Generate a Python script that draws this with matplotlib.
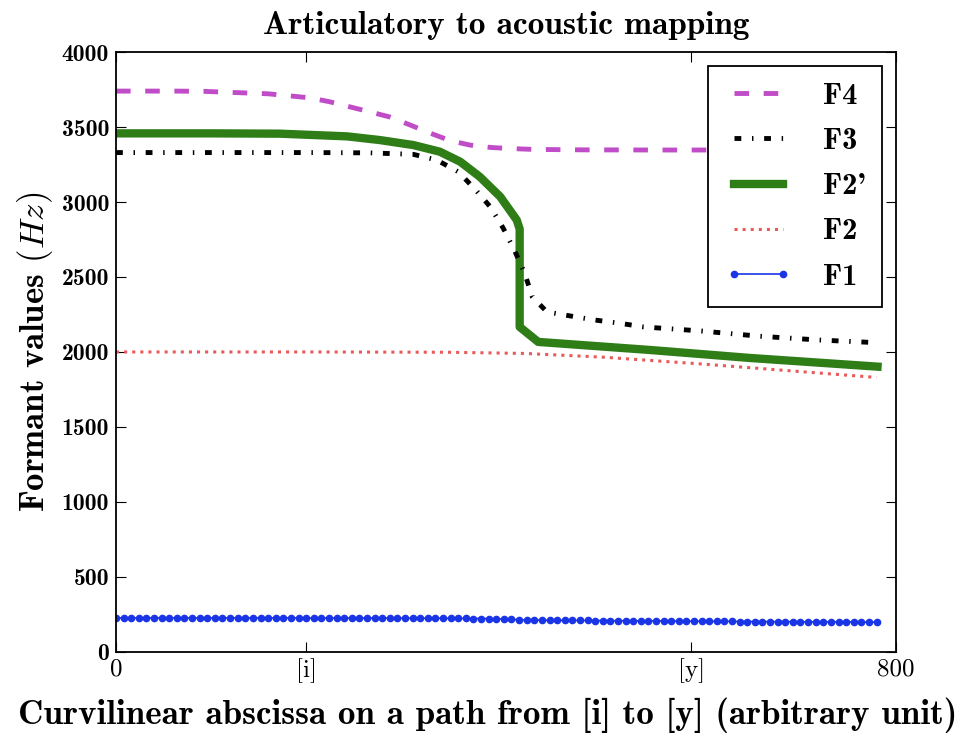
import numpy as np
import matplotlib
matplotlib.use("Agg")
import matplotlib.pyplot as plt

plt.rcParams['mathtext.fontset'] = 'cm'
plt.rcParams['axes.unicode_minus'] = False

# formant tracks along the [i] -> [y] path
f4_x = [0, 60, 91, 156, 199, 219, 260, 281, 302, 322, 343, 363, 384, 404, 428, 480, 560, 640, 720, 780]
f4_y = [3740, 3740, 3738, 3722, 3695, 3669, 3602, 3567, 3513, 3460, 3409, 3380, 3364, 3357, 3351,
        3348, 3347, 3347, 3347, 3347]

f3_x = [0, 100, 200, 260, 305, 329, 351, 368, 384, 397, 409, 419, 427, 442,
        466, 491, 515, 541, 600, 660, 720, 780]
f3_y = [3330, 3330, 3330, 3328, 3318, 3280, 3202, 3087, 2967, 2827, 2673, 2527, 2367, 2267,
        2240, 2213, 2193, 2167, 2140, 2105, 2080, 2062]

f2p_x = [0, 100, 168, 237, 271, 305, 332, 353, 373, 394, 411, 414, 414, 433, 548, 650, 781]
f2p_y = [3458, 3458, 3456, 3438, 3413, 3380, 3336, 3269, 3169, 3036, 2880, 2820, 2167, 2067,
         2013, 1960, 1902]

f2_x = [0, 200, 340, 420, 500, 600, 700, 780]
f2_y = [2000, 2000, 1998, 1990, 1965, 1920, 1870, 1830]

f1_x = np.linspace(0, 780, 101)
f1_y = [226, 226, 226, 226, 226, 226, 226, 226, 226, 226,
        226, 226, 226, 226, 226, 226, 226, 226, 226, 226,
        226, 226, 226, 226, 226, 225, 225, 225, 225, 225,
        225, 225, 225, 225, 225, 225, 225, 224, 224, 224,
        224, 224, 224, 224, 223, 223, 223, 222, 222, 221,
        220, 219, 217, 214, 212, 211, 211, 210, 210, 210,
        209, 209, 209, 208, 208, 208, 207, 207, 207, 206,
        206, 206, 205, 205, 205, 204, 204, 204, 203, 203,
        203, 203, 202, 202, 202, 202, 201, 201, 201, 201,
        200, 200, 200, 200, 199, 199, 199, 199, 198, 198, 198]

xtick_pos = [0, 195, 590, 800]
xtick_labels = ['0', '[i]', '[y]', '800']
ytick_pos = [0, 500, 1000, 1500, 2000, 2500, 3000, 3500, 4000]

bold = {'family': 'cmb10'}
regular = {'family': 'cmr10'}

fig = plt.figure(figsize=(9.75, 7.34), dpi=100)
ax = fig.add_axes([0.119, 0.112, 0.8, 0.817])

h1, = ax.plot(f1_x, f1_y, '-', color='#1a35e6', lw=1.2, marker='o', markersize=4.5,
              markeredgecolor='#1a35e6')
h2, = ax.plot(f2_x, f2_y, ':', color='#e85a5a', lw=2.2)
h2p, = ax.plot(f2p_x, f2p_y, '-', color='#2e7d17', lw=6)
h3, = ax.plot(f3_x, f3_y, color='black', lw=3.5, linestyle=(0, (1.4, 2.2, 0.3, 2.2)))
h4, = ax.plot(f4_x, f4_y, color='#c04cc8', lw=3.5, linestyle=(0, (3, 3)))

ax.set_xlim(0, 800)
ax.set_ylim(0, 4000)
ax.set_xticks(xtick_pos)
ax.set_xticklabels(xtick_labels, fontdict=regular, fontsize=18)
ax.set_yticks(ytick_pos)
ax.set_yticklabels([str(v) for v in ytick_pos], fontdict=bold, fontsize=17)
ax.tick_params(direction='in', top=True, right=True, length=7, width=0.8, pad=5)
for s in ax.spines.values():
    s.set_linewidth(1.3)

ax.set_title('Articulatory to acoustic mapping', fontdict=bold, fontsize=24, pad=13)
ax.set_xlabel('Curvilinear abscissa on a path from [i] to [y] (arbitrary unit)',
              fontdict=bold, fontsize=25.3)
ax.xaxis.set_label_coords(0.476, -0.076)
ax.set_ylabel(r'Formant values $(Hz)$', fontdict=bold, fontsize=25, labelpad=5)

leg = ax.legend([h4, h3, h2p, h2, h1], ['F4', 'F3', "F2'", 'F2', 'F1'],
                loc='upper right', prop={'family': 'cmb10', 'size': 22},
                numpoints=2, handlelength=2.2, labelspacing=0.58, borderpad=0.55,
                handletextpad=1.0, fancybox=False, framealpha=1, edgecolor='black',
                borderaxespad=0.45)
leg.get_frame().set_linewidth(1.3)

fig.savefig('out.png', dpi=100)
